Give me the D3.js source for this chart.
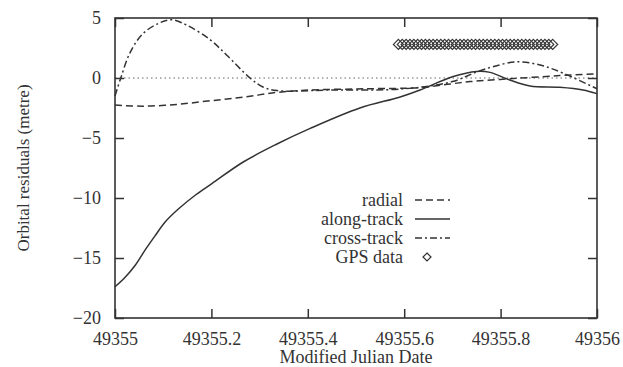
<!DOCTYPE html>
<html>
<head>
  <title>D3</title>
  <meta charset='utf-8'>
  <style>
    body { margin: 0; background: #fff; }
    text { font-family: "Liberation Serif", "DejaVu Serif", serif; fill: #333; }
  </style>
</head>
<body>
  <div id="chart"></div>

  <script src="https://d3js.org/d3.v7.min.js"></script>

  <script type="text/javascript">
    var width = 623,
        height = 367;

    var margin = {top: 18, right: 26, bottom: 49, left: 115};

    // data (days past 49355, metres)
    var radialT   = [0, 0.058, 0.128, 0.197, 0.266, 0.336, 0.405, 0.52, 0.633, 0.695, 0.737, 0.826, 0.923, 1];
    var radialV   = [-2.25, -2.35, -2.2, -1.9, -1.6, -1.2, -1.0, -0.9, -0.8, -0.5, -0.3, -0.05, 0.2, 0.35];

    var alongT    = [0, 0.021, 0.042, 0.063, 0.084, 0.104, 0.132, 0.167, 0.201, 0.266, 0.336, 0.405, 0.508, 0.59, 0.633, 0.70, 0.75, 0.778, 0.819, 0.861, 0.923, 0.971, 1];
    var alongV    = [-17.4, -16.6, -15.6, -14.3, -13.1, -12.0, -10.9, -9.75, -8.8, -7.0, -5.5, -4.2, -2.5, -1.6, -1.0, 0.1, 0.55, 0.47, -0.17, -0.67, -0.78, -1.0, -1.3];

    var crossT    = [0, 0.012, 0.031, 0.058, 0.093, 0.118, 0.149, 0.197, 0.232, 0.28, 0.307, 0.336, 0.45, 0.6, 0.70, 0.75, 0.784, 0.833, 0.882, 0.93, 1];
    var crossV    = [-1.5, 0, 2.1, 3.7, 4.6, 4.85, 4.4, 3.2, 1.9, 0, -0.75, -1.05, -1.0, -0.9, -0.3, 0.5, 0.94, 1.35, 1.08, 0.4, -0.9];

    var gpsT      = [0.588, 0.596, 0.604, 0.612, 0.620, 0.628, 0.636, 0.644, 0.652, 0.660,
                     0.668, 0.676, 0.684, 0.692, 0.700, 0.708, 0.716, 0.724, 0.732, 0.740,
                     0.748, 0.756, 0.764, 0.772, 0.780, 0.788, 0.796, 0.804, 0.812, 0.820,
                     0.828, 0.836, 0.844, 0.852, 0.860, 0.868, 0.876, 0.884, 0.892, 0.900, 0.908];
    var gpsV      = 2.8;

    var xTicks = [49355, 49355.2, 49355.4, 49355.6, 49355.8, 49356];
    var yTicks = [-20, -15, -10, -5, 0, 5];

    var legendNames = ["radial", "along-track", "cross-track", "GPS data"];

    var base = 49355;

    function pairs(ts, vs) {
      return ts.map(function(t, i) { return {x: base + t, y: vs[i]}; });
    }

    var series = [
      {name: "radial", pts: pairs(radialT, radialV), dash: "7,4"},
      {name: "along-track", pts: pairs(alongT, alongV), dash: null},
      {name: "cross-track", pts: pairs(crossT, crossV), dash: "7,3,2,3"}
    ];

    var svg = d3.select("#chart")
                .append("svg")
                .attr("width", width)
                .attr("height", height);

    svg.append("rect").attr("width", width).attr("height", height).attr("fill", "#fff");

    var x = d3.scaleLinear().domain([49355, 49356]).range([margin.left, width - margin.right]);
    var y = d3.scaleLinear().domain([-20, 5]).range([height - margin.bottom, margin.top]);

    var ink = "#333";

    // zero line
    svg.append("line")
       .attr("x1", x(49355)).attr("x2", x(49356))
       .attr("y1", y(0)).attr("y2", y(0))
       .style("stroke", "#666")
       .style("stroke-width", "1px")
       .style("stroke-dasharray", "1.5,3");

    // axes: ticks pointing inward on all four sides
    var fmt = function(d) { return String(+d.toFixed(1)); };

    var bottomAxis = svg.append("g")
       .attr("transform", "translate(0," + y(-20) + ")")
       .call(d3.axisBottom(x).tickValues(xTicks).tickSize(-9).tickPadding(14).tickFormat(fmt));
    var topAxis = svg.append("g")
       .attr("transform", "translate(0," + y(5) + ")")
       .call(d3.axisTop(x).tickValues(xTicks).tickSize(-9).tickFormat(""));
    var leftAxis = svg.append("g")
       .attr("transform", "translate(" + x(49355) + ",0)")
       .call(d3.axisLeft(y).tickValues(yTicks).tickSize(-9).tickPadding(14).tickFormat(d3.format("d")));
    var rightAxis = svg.append("g")
       .attr("transform", "translate(" + x(49356) + ",0)")
       .call(d3.axisRight(y).tickValues(yTicks).tickSize(-9).tickFormat(""));

    [bottomAxis, topAxis, leftAxis, rightAxis].forEach(function(g) {
      g.select(".domain").remove();
      g.selectAll(".tick line").style("stroke", ink).style("stroke-width", "1.5px");
      g.selectAll(".tick text")
       .style("font-family", "'Liberation Serif', serif")
       .style("font-size", "18px")
       .style("fill", ink);
    });

    // frame
    svg.append("rect")
       .attr("x", x(49355)).attr("y", y(5))
       .attr("width", x(49356) - x(49355))
       .attr("height", y(-20) - y(5))
       .attr("fill", "none")
       .style("stroke", ink)
       .style("stroke-width", "1.6px");

    var line = d3.line()
                 .x(function(d) { return x(d.x); })
                 .y(function(d) { return y(d.y); })
                 .curve(d3.curveCatmullRom.alpha(0.5));

    svg.selectAll(".series")
       .data(series)
       .enter()
       .append("path")
       .attr("class", "series")
       .attr("d", function(d) { return line(d.pts); })
       .attr("fill", "none")
       .style("stroke", ink)
       .style("stroke-width", "1.5px")
       .style("stroke-dasharray", function(d) { return d.dash; });

    // GPS diamonds
    var diamond = function(cx, cy, r) {
      return "M" + cx + "," + (cy - r) + "L" + (cx + r) + "," + cy +
             "L" + cx + "," + (cy + r) + "L" + (cx - r) + "," + cy + "Z";
    };

    svg.selectAll(".gps")
       .data(gpsT)
       .enter()
       .append("path")
       .attr("class", "gps")
       .attr("d", function(d) { return diamond(x(base + d), y(gpsV), 5); })
       .attr("fill", "none")
       .style("stroke", "#333")
       .style("stroke-width", "1.2px");

    // legend
    var legend = svg.append("g");
    var rowY = [200, 219, 238, 257];
    legendNames.forEach(function(name, i) {
      legend.append("text")
            .attr("x", 403).attr("y", rowY[i])
            .attr("dy", "0.33em")
            .attr("text-anchor", "end")
            .style("font-size", "18px")
            .text(name);
      if (i < 3) {
        legend.append("line")
              .attr("x1", 415).attr("x2", 450)
              .attr("y1", rowY[i]).attr("y2", rowY[i])
              .style("stroke", ink)
              .style("stroke-width", "1.4px")
              .style("stroke-dasharray", series[i].dash);
      } else {
        legend.append("path")
              .attr("d", diamond(427, rowY[i], 4))
              .attr("fill", "none")
              .style("stroke", ink)
              .style("stroke-width", "1.2px");
      }
    });

    // axis titles
    svg.append("text")
       .attr("x", (x(49355) + x(49356)) / 2)
       .attr("y", 363)
       .attr("text-anchor", "middle")
       .style("font-size", "18px")
       .text("Modified Julian Date");

    svg.append("text")
       .attr("transform", "translate(29," + ((y(5) + y(-20)) / 2) + ") rotate(-90)")
       .attr("text-anchor", "middle")
       .style("font-size", "17px")
       .text("Orbital residuals (metre)");
  </script>
</body>
</html>
